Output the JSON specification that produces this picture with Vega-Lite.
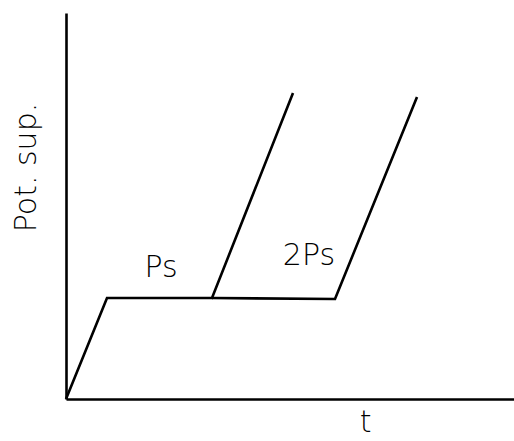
{
  "$schema": "https://vega.github.io/schema/vega-lite/v6.json",
  "width": 448,
  "height": 386,
  "autosize": {"type": "none"},
  "padding": {"left": 66, "top": 13, "right": 0, "bottom": 42},
  "background": "white",
  "config": {
    "view": {"stroke": null},
    "font": "DejaVu Sans",
    "axis": {
      "domainColor": "black",
      "domainWidth": 2.6,
      "ticks": false,
      "labels": false,
      "grid": false,
      "titleFont": "DejaVu Sans",
      "titleFontWeight": 200,
      "titleFontSize": 30,
      "titleColor": "black"
    }
  },
  "datasets": {
    "curves": [
      {"series": "Ps", "step": 0, "t": 0, "pot": 0},
      {"series": "Ps", "step": 1, "t": 41, "pot": 101},
      {"series": "Ps", "step": 2, "t": 146, "pot": 101},
      {"series": "Ps", "step": 3, "t": 227, "pot": 306},
      {"series": "2Ps", "step": 0, "t": 146, "pot": 101},
      {"series": "2Ps", "step": 1, "t": 269, "pot": 100},
      {"series": "2Ps", "step": 2, "t": 351, "pot": 302}
    ],
    "labels": [
      {"text": "Ps", "t": 95, "pot": 122},
      {"text": "2Ps", "t": 243, "pot": 134}
    ]
  },
  "layer": [
    {
      "data": {"name": "curves"},
      "mark": {"type": "line", "color": "black", "strokeWidth": 2.6, "strokeJoin": "miter"},
      "encoding": {
        "x": {
          "field": "t",
          "type": "quantitative",
          "scale": {"domain": [0, 448], "nice": false, "zero": false},
          "axis": {"title": "t", "titleX": 299, "titleY": 32, "titleBaseline": "alphabetic", "titleAlign": "center"}
        },
        "y": {
          "field": "pot",
          "type": "quantitative",
          "scale": {"domain": [0, 386], "nice": false, "zero": false},
          "axis": {"title": "Pot. sup.", "titleX": -31, "titleY": 154, "titleAngle": -90, "titleBaseline": "alphabetic", "titleAlign": "center"}
        },
        "detail": {"field": "series"},
        "order": {"field": "step", "type": "quantitative"}
      }
    },
    {
      "data": {"name": "labels"},
      "mark": {"type": "text", "fontSize": 30, "font": "DejaVu Sans", "fontWeight": 200, "color": "black", "align": "center", "baseline": "alphabetic"},
      "encoding": {
        "x": {"field": "t", "type": "quantitative"},
        "y": {"field": "pot", "type": "quantitative"},
        "text": {"field": "text"}
      }
    }
  ]
}
